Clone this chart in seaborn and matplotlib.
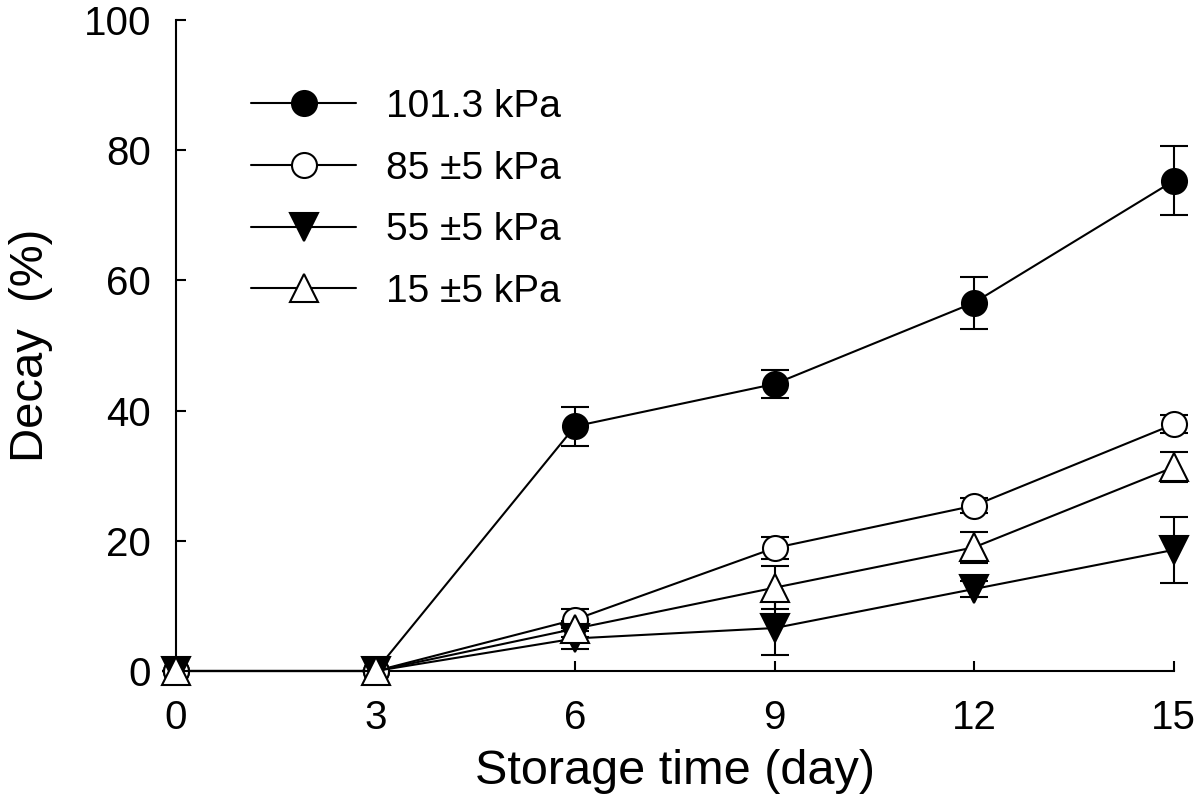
import numpy as np
import pandas as pd
import seaborn as sns
import matplotlib.pyplot as plt

# Datos
days = [0, 3, 6, 9, 12, 15]
labels = ["101.3 kPa", "85 \u00b15 kPa", "55 \u00b15 kPa", "15 \u00b15 kPa"]
decay_101 = [0, 0, 37.6, 44.1, 56.6, 75.3]
err_101 = [0, 0, 3.0, 2.2, 4.0, 5.3]
decay_85 = [0, 0, 7.9, 18.9, 25.4, 37.9]
err_85 = [0, 0, 1.7, 1.7, 1.2, 1.4]
decay_55 = [0, 0, 5.0, 6.6, 12.6, 18.6]
err_55 = [0, 0, 1.6, 4.1, 1.3, 5.1]
decay_15 = [0, 0, 6.5, 12.8, 19.0, 31.3]
err_15 = [0, 0, 1.2, 3.3, 2.4, 2.3]

series = [
    (labels[0], decay_101, err_101, "o", "black", 18),
    (labels[1], decay_85, err_85, "o", "white", 18),
    (labels[2], decay_55, err_55, "v", "black", 20),
    (labels[3], decay_15, err_15, "^", "white", 20),
]

sns.set_style("ticks")
plt.rcParams["font.family"] = ["Liberation Sans", "DejaVu Sans"]
plt.rcParams["text.color"] = "black"
plt.rcParams["axes.labelcolor"] = "black"

fig = plt.figure(figsize=(12, 8.06), dpi=100)
ax = fig.add_axes([0.1467, 0.1675, 0.8313, 0.8075])

for name, vals, err, mk, fc, ms in series:
    ax.errorbar(days, vals, yerr=err, fmt="none", ecolor="black",
                elinewidth=1.5, capsize=10, capthick=1.5, zorder=2,
                clip_on=False)
    sns.lineplot(x=days, y=vals, ax=ax, color="black", lw=1.5, marker=mk,
                 markersize=ms, markerfacecolor=fc, markeredgecolor="black",
                 markeredgewidth=1.5, label=name, zorder=3, clip_on=False)

ax.set_xlim(0, 15)
ax.set_ylim(0, 100)
ax.set_xticks(days)
ax.set_yticks([0, 20, 40, 60, 80, 100])
ax.tick_params(axis="both", direction="in", length=7, width=1.5,
               labelsize=29, colors="black")
ax.tick_params(axis="y", pad=18)
ax.tick_params(axis="x", pad=20)
for s in ["top", "right"]:
    ax.spines[s].set_visible(False)
for s in ["left", "bottom"]:
    ax.spines[s].set_linewidth(1.5)
    ax.spines[s].set_color("black")

ax.set_xlabel("Storage time (day)", fontsize=35, labelpad=9)
ax.set_ylabel("Decay  (%)", fontsize=34, labelpad=22)

ax.legend(loc="upper left", bbox_to_anchor=(0.06, 0.918), frameon=False,
          fontsize=28, handlelength=2.7, labelspacing=0.66, handletextpad=0.77,
          borderaxespad=0, markerscale=1.0)

fig.savefig("out.png", dpi=100)
